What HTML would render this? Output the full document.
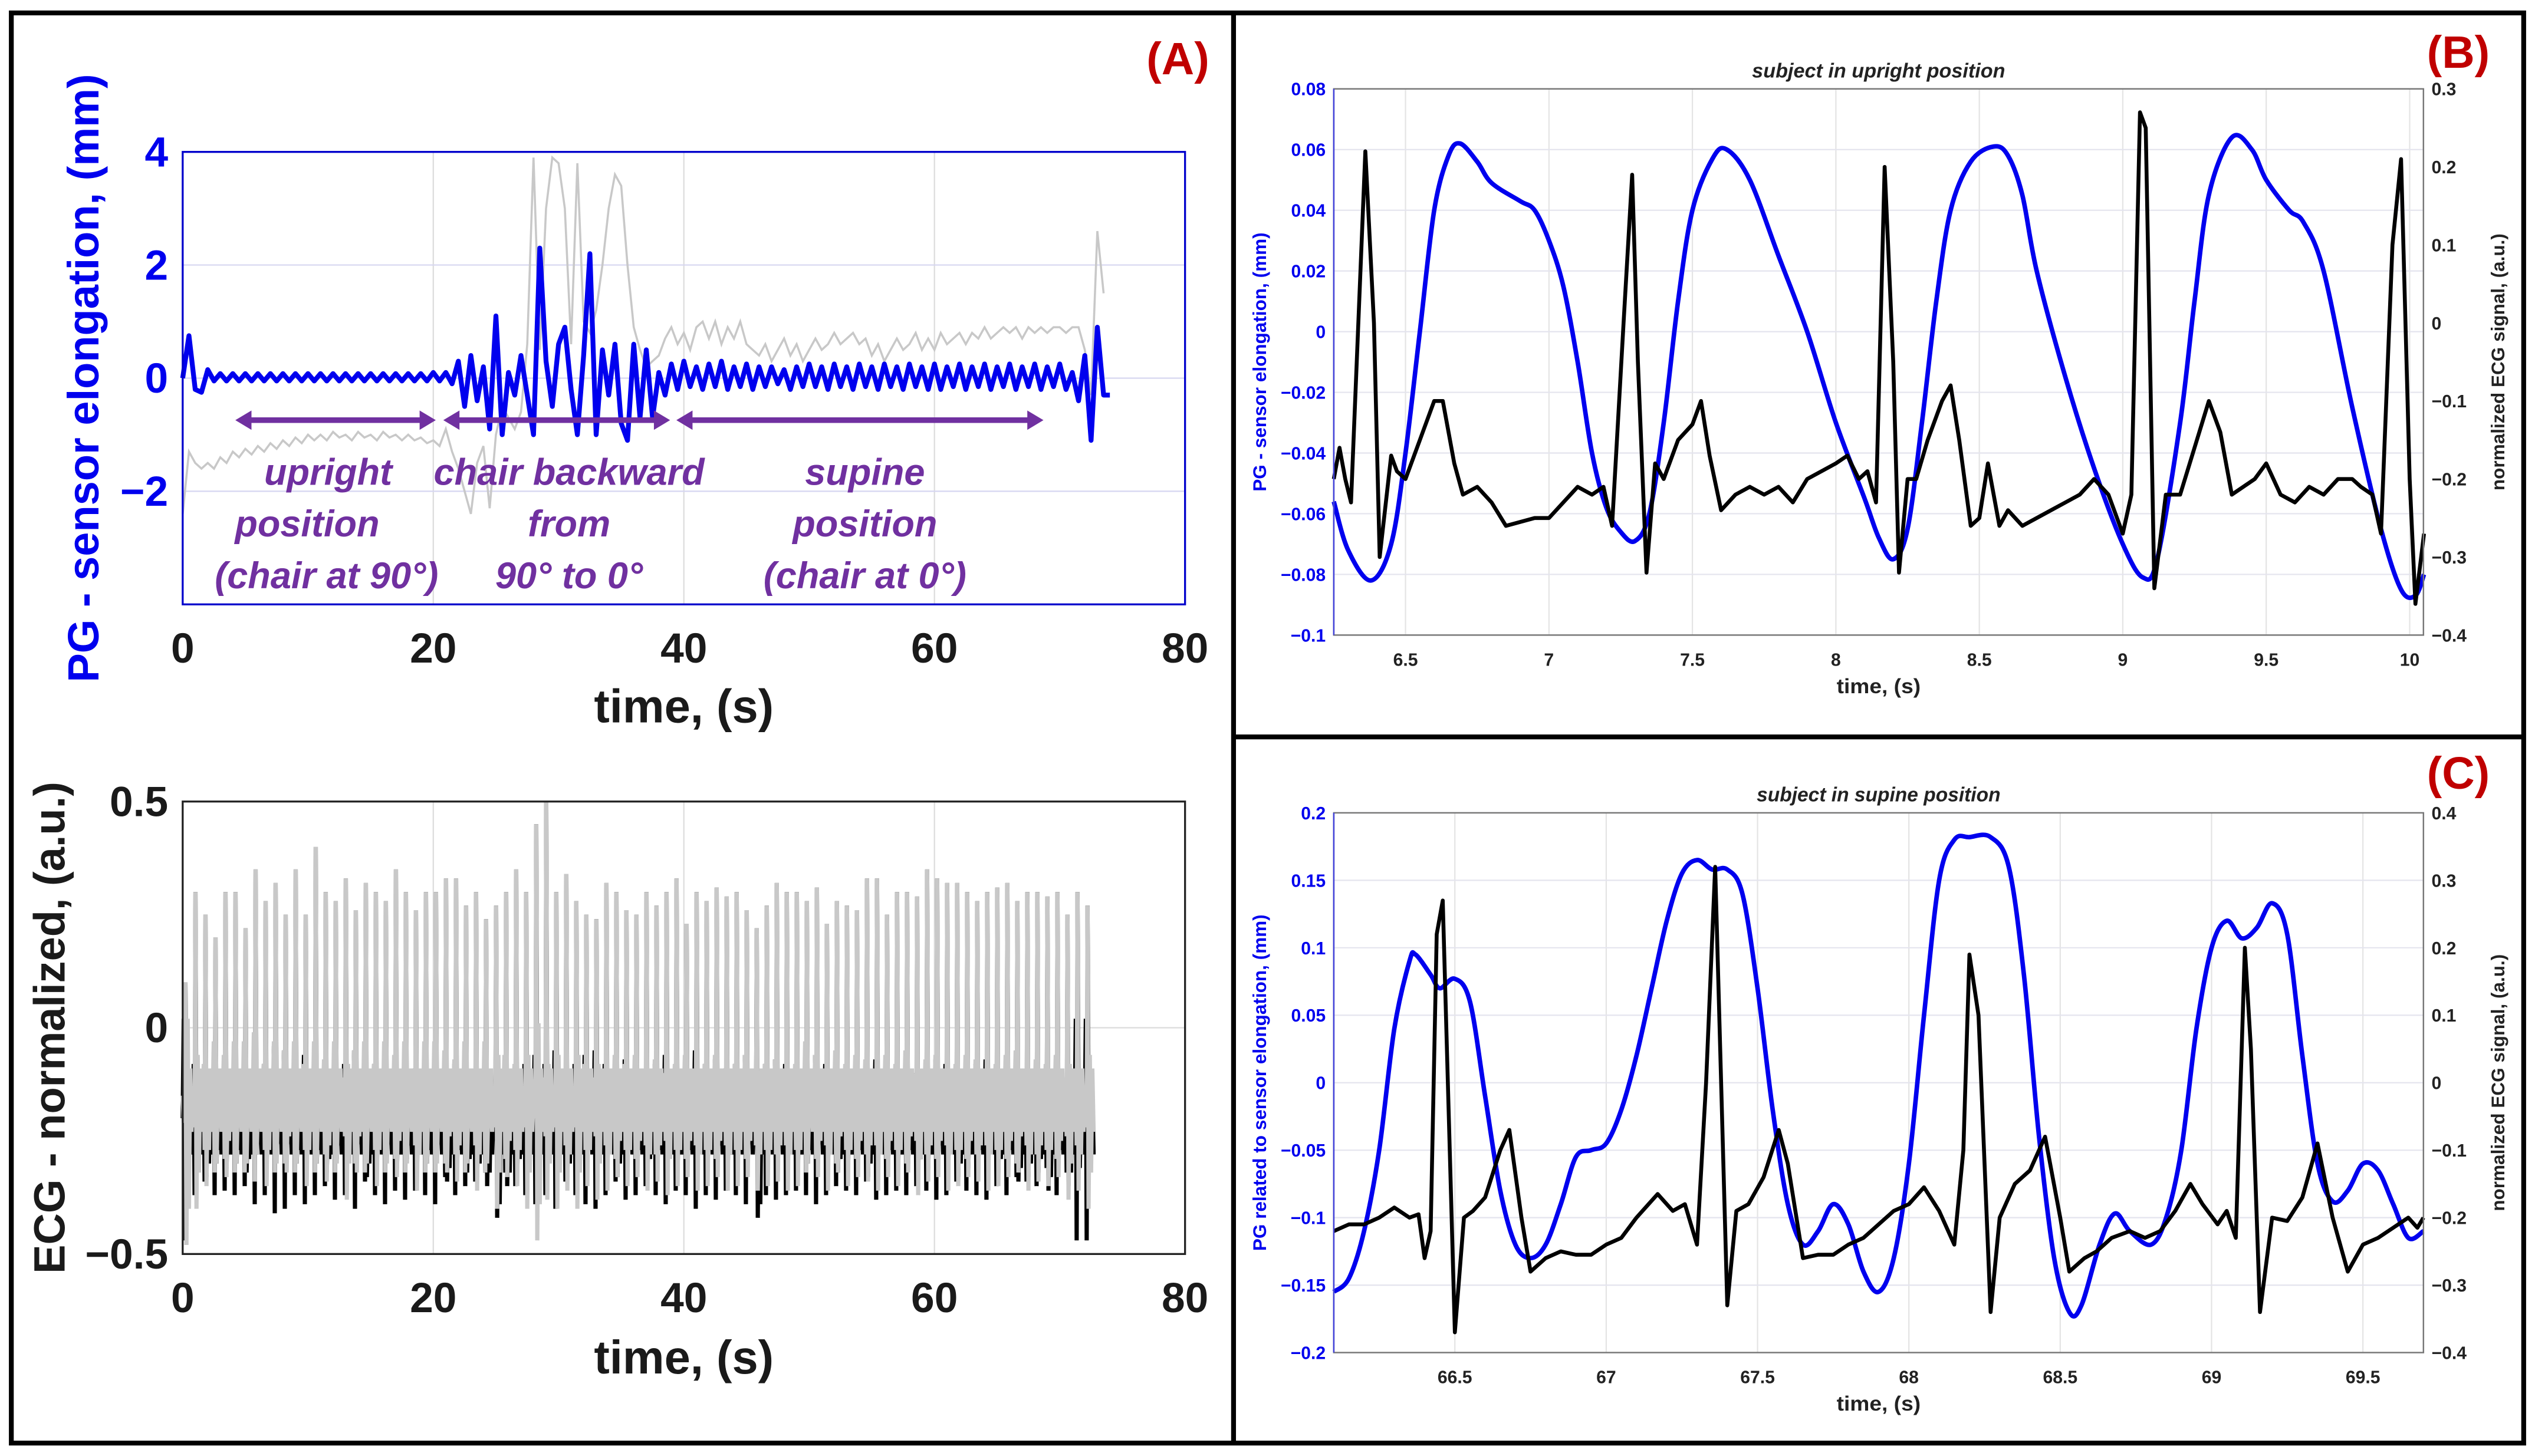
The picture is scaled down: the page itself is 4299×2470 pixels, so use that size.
<!DOCTYPE html>
<html><head><meta charset="utf-8"><style>
html,body{margin:0;padding:0;background:#fff}
svg{display:block}
text{font-family:"Liberation Sans Narrow","Liberation Sans",sans-serif}
</style></head><body>
<svg id="fig" width="4299" height="2470" viewBox="0 0 1568 901" preserveAspectRatio="none" xmlns="http://www.w3.org/2000/svg">
<rect x="0" y="0" width="1568" height="901" fill="#fff"/>
<g id="grids"></g><g id="marks"></g><g id="axes"></g>
<rect x="7" y="8" width="1554" height="885" fill="none" stroke="#000" stroke-width="3"/>
<line x1="763" y1="8" x2="763" y2="893" stroke="#000" stroke-width="3"/>
<line x1="763" y1="456" x2="1561" y2="456" stroke="#000" stroke-width="3"/>
<text x="748" y="46" text-anchor="end" font-size="28" font-weight="bold" fill="#c00000">(A)</text>
<text x="1540" y="42" text-anchor="end" font-size="28" font-weight="bold" fill="#c00000">(B)</text>
<text x="1540" y="488" text-anchor="end" font-size="28" font-weight="bold" fill="#c00000">(C)</text>
<g fill="#7030a0" font-size="23" font-weight="bold" font-style="italic" text-anchor="middle">
<text x="203" y="300">upright</text><text x="190" y="332">position</text><text x="202" y="364">(chair at 90°)</text>
<text x="352" y="300">chair backward</text><text x="352" y="332">from</text><text x="352" y="364">90° to 0°</text>
<text x="535" y="300">supine</text><text x="535" y="332">position</text><text x="535" y="364">(chair at 0°)</text>
</g>
<g id="arrows"></g>
</svg>
<script>
// ---------- DATA ----------
const a1Dt = 0.5;
const a1Blue = [0,0.75,-0.2,-0.25,0.15,-0.05,0.08,-0.05,0.08,-0.05,0.08,-0.05,0.08,-0.05,0.08,-0.05,0.08,-0.05,0.08,-0.05,0.08,-0.05,0.08,-0.05,0.08,-0.05,0.08,-0.05,0.08,-0.05,0.08,-0.05,0.08,-0.05,0.08,-0.05,0.08,-0.05,0.08,-0.05,0.1,-0.05,
0.1,-0.1,0.3,-0.5,0.4,-0.4,0.2,-0.9,1.1,-1.0,0.1,-0.3,0.4,-0.3,-1.0,2.3,0.3,-0.5,0.6,0.9,-0.2,-1.0,0.4,2.2,-1.0,0.5,-0.3,0.6,-0.8,-1.1,0.6,-0.7,0.5,-0.7,0.1,-0.3,
0.25,-0.2,0.3,-0.15,0.2,-0.2,0.25,-0.15,0.3,-0.2,0.2,-0.15,0.25,-0.2,0.2,-0.15,0.2,-0.1,0.15,-0.2,0.2,-0.15,0.25,-0.15,0.2,-0.2,0.25,-0.15,0.2,-0.2,0.25,-0.15,
0.2,-0.2,0.25,-0.15,0.2,-0.2,0.25,-0.15,0.2,-0.2,0.25,-0.2,0.2,-0.15,0.25,-0.2,0.2,-0.15,0.25,-0.2,0.2,-0.15,0.25,-0.2,0.2,-0.15,0.25,-0.2,0.2,-0.15,0.25,-0.2,
0.1,-0.4,0.4,-1.1,0.9,-0.3,-0.3];
const a1Gray = [-2.4,-1.3,-1.5,-1.6,-1.5,-1.6,-1.4,-1.5,-1.3,-1.4,-1.25,-1.35,-1.2,-1.3,-1.15,-1.25,-1.1,-1.2,-1.05,-1.15,-1.0,-1.1,-1.0,-1.1,-0.95,-1.05,-1.0,-1.1,-0.95,-1.05,-1.0,-1.1,-0.95,-1.05,-1.0,-1.1,-1.0,-1.1,-1.05,-1.15,-1.1,-1.2,
-0.9,-1.3,-1.6,-2.0,-2.4,-1.5,-1.2,-2.3,-1.0,-0.5,-0.7,-0.9,-0.6,0.6,3.9,0.5,3.0,3.9,3.8,3.0,0.6,3.8,1.0,0.8,1.2,2.0,3.0,3.6,3.4,2.0,0.9,0.5,
0.2,0.3,0.4,0.7,0.9,0.6,0.8,0.5,0.9,1.0,0.7,1.0,0.6,0.9,0.7,1.0,0.6,0.5,0.4,0.6,0.3,0.5,0.7,0.4,0.6,0.3,0.5,0.7,0.5,0.6,0.8,0.6,0.7,0.8,0.6,0.7,
0.4,0.6,0.3,0.5,0.7,0.5,0.6,0.8,0.5,0.7,0.5,0.8,0.6,0.7,0.8,0.6,0.8,0.7,0.9,0.7,0.8,0.9,0.8,0.9,0.7,0.9,0.8,0.9,0.8,0.9,0.9,0.8,0.9,0.9,
0.5,-0.3,2.6,1.5];
const a2Period = 0.8;
const a2GrayPeak = [0.1,0.3,0.25,0.2,0.3,0.3,0.22,0.35,0.28,0.32,0.25,0.35,0.25,0.4,0.3,0.28,0.33,0.26,0.32,0.3,0.28,0.35,0.3,0.26,0.3,0.3,0.33,0.33,0.27,0.3,0.24,0.27,0.3,0.35,0.3,0.45,0.5,0.3,0.34,0.28,0.25,0.24,0.32,0.3,0.26,0.25,0.3,0.27,0.3,0.33,0.23,0.3,0.28,0.31,0.29,0.3,0.26,0.22,0.27,0.32,0.3,0.3,0.28,0.31,0.23,0.28,0.27,0.26,0.33,0.33,0.25,0.3,0.3,0.29,0.35,0.33,0.32,0.32,0.3,0.28,0.3,0.31,0.32,0.28,0.3,0.3,0.29,0.3,0.25,0.3,0.27];
const a2GrayTrough = [-0.48,-0.4,-0.35,-0.3,-0.33,-0.3,-0.3,-0.28,-0.35,-0.3,-0.32,-0.3,-0.35,-0.3,-0.34,-0.3,-0.38,-0.32,-0.3,-0.35,-0.3,-0.33,-0.3,-0.36,-0.3,-0.3,-0.32,-0.34,-0.3,-0.36,-0.3,-0.4,-0.33,-0.35,-0.4,-0.47,-0.38,-0.4,-0.36,-0.4,-0.35,-0.38,-0.36,-0.33,-0.35,-0.33,-0.36,-0.34,-0.37,-0.35,-0.33,-0.36,-0.35,-0.33,-0.36,-0.35,-0.33,-0.36,-0.35,-0.34,-0.36,-0.35,-0.3,-0.33,-0.36,-0.32,-0.35,-0.33,-0.34,-0.36,-0.33,-0.35,-0.32,-0.37,-0.34,-0.33,-0.36,-0.35,-0.33,-0.34,-0.36,-0.35,-0.33,-0.32,-0.36,-0.34,-0.35,-0.33,-0.38,-0.36,-0.4];
const a2BlackTrough = [-0.2,-0.3,-0.33,-0.3,-0.31,-0.3,-0.32,-0.28,-0.3,-0.26,-0.27,-0.3,-0.28,-0.3,-0.32,-0.29,-0.3,-0.27,-0.33,-0.3,-0.28,-0.31,-0.29,-0.31,-0.3,-0.28,-0.34,-0.3,-0.32,-0.33,-0.35,-0.42,-0.35,-0.32,-0.3,-0.28,-0.3,-0.27,-0.33,-0.3,-0.28,-0.27,-0.3,-0.33,-0.29,-0.3,-0.32,-0.3,-0.28,-0.31,-0.3,-0.27,-0.3,-0.29,-0.31,-0.3,-0.28,-0.42,-0.3,-0.29,-0.3,-0.31,-0.3,-0.28,-0.3,-0.32,-0.31,-0.3,-0.33,-0.29,-0.3,-0.31,-0.3,-0.32,-0.31,-0.29,-0.3,-0.33,-0.31,-0.3,-0.29,-0.32,-0.3,-0.34,-0.33,-0.32,-0.36,-0.3,-0.35,-0.2,-0.2];
const bBlueT = [6.25,6.3,6.38,6.45,6.5,6.55,6.6,6.65,6.69,6.75,6.8,6.9,6.95,7.0,7.05,7.1,7.15,7.2,7.25,7.3,7.35,7.4,7.45,7.5,7.57,7.62,7.7,7.8,7.9,8.0,8.1,8.15,8.2,8.25,8.3,8.35,8.4,8.47,8.55,8.6,8.65,8.7,8.8,8.9,9.0,9.07,9.12,9.2,9.25,9.3,9.38,9.45,9.5,9.58,9.63,9.7,9.8,9.9,9.97,10.02,10.05];
const bBlueV = [-0.056,-0.072,-0.082,-0.07,-0.04,0.0,0.04,0.058,0.062,0.056,0.049,0.043,0.04,0.03,0.015,-0.01,-0.04,-0.058,-0.066,-0.069,-0.06,-0.03,0.01,0.04,0.057,0.06,0.05,0.025,0.0,-0.03,-0.055,-0.068,-0.075,-0.065,-0.03,0.01,0.04,0.056,0.061,0.058,0.045,0.02,-0.015,-0.045,-0.07,-0.081,-0.075,-0.03,0.01,0.045,0.064,0.06,0.05,0.04,0.036,0.02,-0.025,-0.065,-0.085,-0.087,-0.08];
const bEcgT = [6.25,6.27,6.29,6.31,6.33,6.36,6.39,6.41,6.45,6.47,6.5,6.55,6.6,6.63,6.67,6.7,6.75,6.8,6.85,6.9,6.95,7.0,7.05,7.1,7.15,7.19,7.22,7.26,7.29,7.31,7.34,7.37,7.4,7.45,7.5,7.53,7.56,7.6,7.65,7.7,7.75,7.8,7.85,7.9,7.95,8.0,8.04,8.08,8.11,8.14,8.17,8.2,8.22,8.25,8.28,8.32,8.37,8.4,8.43,8.47,8.5,8.53,8.57,8.6,8.65,8.7,8.75,8.8,8.85,8.9,8.95,9.0,9.03,9.06,9.08,9.11,9.15,9.2,9.25,9.3,9.34,9.38,9.42,9.46,9.5,9.55,9.6,9.65,9.7,9.75,9.8,9.83,9.87,9.9,9.94,9.97,10.0,10.02,10.05];
const bEcgV = [-0.2,-0.16,-0.2,-0.23,-0.05,0.22,0.0,-0.3,-0.17,-0.19,-0.2,-0.15,-0.1,-0.1,-0.18,-0.22,-0.21,-0.23,-0.26,-0.255,-0.25,-0.25,-0.23,-0.21,-0.22,-0.21,-0.26,0.0,0.19,-0.05,-0.32,-0.18,-0.2,-0.15,-0.13,-0.1,-0.17,-0.24,-0.22,-0.21,-0.22,-0.21,-0.23,-0.2,-0.19,-0.18,-0.17,-0.2,-0.19,-0.23,0.2,-0.05,-0.32,-0.2,-0.2,-0.15,-0.1,-0.08,-0.15,-0.26,-0.25,-0.18,-0.26,-0.24,-0.26,-0.25,-0.24,-0.23,-0.22,-0.2,-0.22,-0.27,-0.22,0.27,0.25,-0.34,-0.22,-0.22,-0.16,-0.1,-0.14,-0.22,-0.21,-0.2,-0.18,-0.22,-0.23,-0.21,-0.22,-0.2,-0.2,-0.21,-0.22,-0.27,0.1,0.21,-0.2,-0.36,-0.27];
const cBlueT = [66.1,66.15,66.2,66.25,66.3,66.35,66.37,66.42,66.45,66.5,66.55,66.6,66.65,66.7,66.75,66.8,66.85,66.9,66.95,67.0,67.05,67.1,67.15,67.2,67.25,67.3,67.35,67.4,67.45,67.5,67.55,67.6,67.65,67.7,67.75,67.8,67.85,67.9,67.95,68.0,68.05,68.1,68.15,68.2,68.27,68.33,68.38,68.43,68.48,68.53,68.57,68.63,68.68,68.73,68.8,68.85,68.9,68.95,69.0,69.05,69.1,69.15,69.2,69.25,69.3,69.35,69.4,69.45,69.5,69.55,69.6,69.65,69.7];
const cBlueV = [-0.155,-0.145,-0.11,-0.05,0.04,0.09,0.095,0.08,0.07,0.077,0.06,-0.01,-0.08,-0.12,-0.13,-0.12,-0.09,-0.055,-0.05,-0.045,-0.02,0.02,0.07,0.12,0.155,0.165,0.158,0.158,0.14,0.07,-0.02,-0.09,-0.12,-0.11,-0.09,-0.105,-0.14,-0.155,-0.13,-0.06,0.05,0.15,0.18,0.182,0.182,0.16,0.08,-0.04,-0.13,-0.17,-0.165,-0.12,-0.097,-0.11,-0.12,-0.1,-0.05,0.04,0.1,0.12,0.107,0.115,0.133,0.11,0.02,-0.06,-0.088,-0.08,-0.06,-0.065,-0.09,-0.115,-0.11];
const cEcgT = [66.1,66.15,66.2,66.25,66.3,66.35,66.38,66.4,66.42,66.44,66.46,66.5,66.53,66.56,66.6,66.65,66.68,66.72,66.75,66.8,66.85,66.9,66.95,67.0,67.05,67.1,67.17,67.22,67.26,67.3,67.33,67.36,67.4,67.43,67.47,67.52,67.57,67.6,67.65,67.7,67.75,67.8,67.85,67.9,67.95,68.0,68.05,68.1,68.15,68.18,68.2,68.23,68.27,68.3,68.35,68.4,68.45,68.5,68.53,68.58,68.62,68.67,68.73,68.78,68.83,68.88,68.93,68.97,69.02,69.05,69.08,69.11,69.13,69.16,69.2,69.25,69.3,69.35,69.4,69.45,69.5,69.55,69.6,69.65,69.68,69.7];
const cEcgV = [-0.22,-0.21,-0.21,-0.2,-0.185,-0.2,-0.195,-0.26,-0.22,0.22,0.27,-0.37,-0.2,-0.19,-0.17,-0.1,-0.07,-0.2,-0.28,-0.26,-0.25,-0.255,-0.255,-0.24,-0.23,-0.2,-0.165,-0.19,-0.18,-0.24,0.0,0.32,-0.33,-0.19,-0.18,-0.14,-0.07,-0.12,-0.26,-0.255,-0.255,-0.24,-0.23,-0.21,-0.19,-0.18,-0.155,-0.19,-0.24,-0.1,0.19,0.1,-0.34,-0.2,-0.15,-0.13,-0.08,-0.2,-0.28,-0.26,-0.25,-0.23,-0.22,-0.23,-0.22,-0.19,-0.15,-0.18,-0.21,-0.19,-0.23,0.2,0.05,-0.34,-0.2,-0.205,-0.17,-0.09,-0.2,-0.28,-0.24,-0.23,-0.215,-0.2,-0.215,-0.2];
const aXTicks = [0,20,40,60,80];
const a1YTicks = [4,2,0,-2];
const a2YTicks = [0.5,0,-0.5];
const bXTicks = [6.5,7,7.5,8,8.5,9,9.5,10];
const bYLeft = [0.08,0.06,0.04,0.02,0,-0.02,-0.04,-0.06,-0.08,-0.1];
const bYRight = [0.3,0.2,0.1,0,-0.1,-0.2,-0.3,-0.4];
const cXTicks = [66.5,67,67.5,68,68.5,69,69.5];
const cYLeft = [0.2,0.15,0.1,0.05,0,-0.05,-0.1,-0.15,-0.2];
const cYRight = [0.4,0.3,0.2,0.1,0,-0.1,-0.2,-0.3,-0.4];
const arrowSpans = [[4.2,20.2],[20.8,38.9],[39.4,68.7]];

// ---------- DRAW ----------
const NS='http://www.w3.org/2000/svg';
const G=document.getElementById('grids'),M=document.getElementById('marks'),AX=document.getElementById('axes');
function el(tag,attrs,parent){const e=document.createElementNS(NS,tag);for(const k in attrs)e.setAttribute(k,attrs[k]);parent.appendChild(e);return e;}
function scale(d0,d1,p0,p1){return v=>p0+(v-d0)/(d1-d0)*(p1-p0);}
function pathFrom(xs,ys,sx,sy){return xs.map((x,i)=>(i?'L':'M')+sx(x).toFixed(2)+','+sy(ys[i]).toFixed(2)).join('');}
function smoothPath(xs,ys,sx,sy){const P=xs.map((x,i)=>[sx(x),sy(ys[i])]);let d='M'+P[0][0].toFixed(2)+','+P[0][1].toFixed(2);
for(let i=0;i<P.length-1;i++){const p0=P[i-1]||P[i],p1=P[i],p2=P[i+1],p3=P[i+2]||p2;
const c1=[p1[0]+(p2[0]-p0[0])/6,p1[1]+(p2[1]-p0[1])/6],c2=[p2[0]-(p3[0]-p1[0])/6,p2[1]-(p3[1]-p1[1])/6];
d+='C'+c1.map(v=>v.toFixed(2)).join(',')+' '+c2.map(v=>v.toFixed(2)).join(',')+' '+p2.map(v=>v.toFixed(2)).join(',');}return d;}
function fmt(v){return (v<0?'\u2212':'')+String(Math.abs(v));}
function fmtSmall(v){return (v<0?'\u2212':'')+String(Math.abs(v));}

// ---- Panel A1 ----
const a1x=scale(0,80,113,733), a1y=scale(-4,4,374,94);
aXTicks.slice(1,4).forEach(t=>{const l=el('line',{x1:a1x(t),x2:a1x(t),y1:94,y2:374,stroke:'#dcdcdc','stroke-width':0.8},G);

});
[2,0,-2].forEach(t=>{const l=el('line',{x1:113,x2:733,y1:a1y(t),y2:a1y(t),stroke:'#d6d6f0','stroke-width':0.8},G);

});
const a1t=a1Gray.map((_,i)=>i*a1Dt);
let p=el('path',{d:pathFrom(a1t,a1Gray,a1x,a1y),fill:'none',stroke:'#c8c8c8','stroke-width':1.3},M);


const a1tb=a1Blue.map((_,i)=>i*a1Dt);
p=el('path',{d:pathFrom(a1tb,a1Blue,a1x,a1y),fill:'none',stroke:'#0000ee','stroke-width':3,'stroke-linejoin':'round'},M);


let r=el('rect',{x:113,y:94,width:620,height:280,fill:'none',stroke:'#0000cc','stroke-width':1.2},AX);


aXTicks.forEach(t=>{const tx=el('text',{x:a1x(t),y:410,'text-anchor':'middle','font-size':26,'font-weight':'bold',fill:'#1a1a1a'},AX);tx.textContent=t;

});
a1YTicks.forEach(t=>{const tx=el('text',{x:104,y:a1y(t)+9,'text-anchor':'end','font-size':26,'font-weight':'bold',fill:'#0000ee'},AX);tx.textContent=fmt(t);

});
let tx=el('text',{x:423,y:447,'text-anchor':'middle','font-size':29,'font-weight':'bold',fill:'#1a1a1a'},AX);tx.textContent='time, (s)';


tx=el('text',{x:0,y:0,'text-anchor':'middle','font-size':27,'font-weight':'bold',fill:'#0000ee',transform:'translate(61,234) rotate(-90)'},AX);tx.textContent='PG - sensor elongation, (mm)';


const arrG=document.getElementById('arrows');
arrowSpans.forEach(s=>{const x1=a1x(s[0]),x2=a1x(s[1]),y=260;
const ln=el('line',{x1:x1+6,x2:x2-6,y1:y,y2:y,stroke:'#7030a0','stroke-width':3.5},arrG);


el('polygon',{points:`${x1},${y} ${x1+10},${y-6} ${x1+10},${y+6}`,fill:'#7030a0'},arrG);
el('polygon',{points:`${x2},${y} ${x2-10},${y-6} ${x2-10},${y+6}`,fill:'#7030a0'},arrG);});

// ---- Panel A2 ----
const a2x=scale(0,80,113,733), a2y=scale(-0.5,0.5,776,496);
aXTicks.slice(1,4).forEach(t=>{const l=el('line',{x1:a2x(t),x2:a2x(t),y1:496,y2:776,stroke:'#dcdcdc','stroke-width':0.8},G);

});
let l0=el('line',{x1:113,x2:733,y1:a2y(0),y2:a2y(0),stroke:'#dcdcdc','stroke-width':0.8},G);


function ecgPath(peaks,troughs,base){const xs=[],ys=[];peaks.forEach((pk,i)=>{const t0=i*a2Period,v=troughs[i]+0.35;
xs.push(t0,t0+0.08,t0+0.15,t0+0.22,t0+0.3,t0+0.4,t0+0.5,t0+0.6,t0+0.7);
ys.push(base,base+0.07+v,base-0.12-v,pk,troughs[i],base+0.04-v,base-0.12+v,base+0.06,base-0.08);});return [xs,ys];}
let [bx,by]=ecgPath(a2GrayPeak,a2BlackTrough,-0.2);
p=el('path',{d:pathFrom(bx,by,a2x,a2y),fill:'none',stroke:'#000','stroke-width':2.6},M);


let [gx,gy]=ecgPath(a2GrayPeak,a2GrayTrough,-0.15);
p=el('path',{d:pathFrom(gx,gy,a2x,a2y),fill:'none',stroke:'#c8c8c8','stroke-width':2.6},M);


r=el('rect',{x:113,y:496,width:620,height:280,fill:'none',stroke:'#222','stroke-width':1.2},AX);


aXTicks.forEach(t=>{const tx=el('text',{x:a2x(t),y:812,'text-anchor':'middle','font-size':26,'font-weight':'bold',fill:'#1a1a1a'},AX);tx.textContent=t;

});
a2YTicks.forEach(t=>{const tx=el('text',{x:104,y:a2y(t)+9,'text-anchor':'end','font-size':26,'font-weight':'bold',fill:'#1a1a1a'},AX);tx.textContent=fmt(t);

});
tx=el('text',{x:423,y:850,'text-anchor':'middle','font-size':29,'font-weight':'bold',fill:'#1a1a1a'},AX);tx.textContent='time, (s)';


tx=el('text',{x:0,y:0,'text-anchor':'middle','font-size':27,'font-weight':'bold',fill:'#1a1a1a',transform:'translate(40,636) rotate(-90)'},AX);tx.textContent='ECG - normalized, (a.u.)';



// ---- Panels B & C ----
const PL=825, PR=1499;
function dual(cfg){
 const {pre,x0,x1,xTicks,yL,yR,top,bot,bt,bv,et,ev,title,yTitle}=cfg;
 const sx=scale(x0,x1,PL,PR), sl=scale(yL[yL.length-1],yL[0],bot,top), sr=scale(yR[yR.length-1],yR[0],bot,top);
 xTicks.forEach(t=>{const l=el('line',{x1:sx(t),x2:sx(t),y1:top,y2:bot,stroke:'#e4e4e4','stroke-width':0.8},G);
 
 });
 yL.forEach(t=>{const l=el('line',{x1:PL,x2:PR,y1:sl(t),y2:sl(t),stroke:'#e4e4ee','stroke-width':0.8},G);
 
 });
 let q=el('path',{d:smoothPath(bt,bv,sx,sl),fill:'none',stroke:'#0000ee','stroke-width':2.8,'stroke-linejoin':'round'},M);
 
 
 q=el('path',{d:pathFrom(et,ev,sx,sr),fill:'none',stroke:'#000','stroke-width':2.4,'stroke-linejoin':'round'},M);
 
 
 const bx=el('rect',{x:PL,y:top,width:PR-PL,height:bot-top,fill:'none',stroke:'#777','stroke-width':0.9},AX);
 
 
 el('line',{x1:PL,x2:PL,y1:top,y2:bot,stroke:'#4444dd','stroke-width':0.9},AX);
 xTicks.forEach(t=>{const s=String(t);const a=el('text',{x:sx(t),y:bot+19,'text-anchor':'middle','font-size':11,'font-weight':'bold',fill:'#222'},AX);a.textContent=s;
 
 });
 yL.forEach(t=>{const s=fmtSmall(t);const a=el('text',{x:PL-5,y:sl(t)+4,'text-anchor':'end','font-size':11,'font-weight':'bold',fill:'#0000ee'},AX);a.textContent=s;
 
 });
 yR.forEach(t=>{const s=fmtSmall(t);const a=el('text',{x:PR+5,y:sr(t)+4,'text-anchor':'start','font-size':11,'font-weight':'bold',fill:'#222'},AX);a.textContent=s;
 
 });
 let a=el('text',{x:1162,y:top-7,'text-anchor':'middle','font-size':12.5,'font-weight':'bold','font-style':'italic',fill:'#222',textLength:title.length*5.8,lengthAdjust:'spacingAndGlyphs'},AX);a.textContent=title;
 
 
 a=el('text',{x:1162,y:bot+36,'text-anchor':'middle','font-size':13,'font-weight':'bold',fill:'#222',textLength:52,lengthAdjust:'spacingAndGlyphs'},AX);a.textContent='time, (s)';
 
 
 const cy=(top+bot)/2;
 a=el('text',{x:0,y:0,'text-anchor':'middle','font-size':11.5,'font-weight':'bold',fill:'#0000ee',transform:`translate(783,${cy}) rotate(-90)`},AX);a.textContent=yTitle;
 
 
 a=el('text',{x:0,y:0,'text-anchor':'middle','font-size':11.5,'font-weight':'bold',fill:'#222',transform:`translate(1549,${cy}) rotate(-90)`},AX);a.textContent='normalized ECG signal, (a.u.)';
 
 
}
dual({pre:'b',x0:6.25,x1:10.048,xTicks:bXTicks,yL:bYLeft,yR:bYRight,top:55,bot:393,bt:bBlueT,bv:bBlueV,et:bEcgT,ev:bEcgV,title:'subject in upright position',yTitle:'PG - sensor elongation, (mm)'});
dual({pre:'c',x0:66.1,x1:69.7,xTicks:cXTicks,yL:cYLeft,yR:cYRight,top:503,bot:837,bt:cBlueT,bv:cBlueV,et:cEcgT,ev:cEcgV,title:'subject in supine position',yTitle:'PG related to sensor elongation, (mm)'});
</script>
</body></html>
